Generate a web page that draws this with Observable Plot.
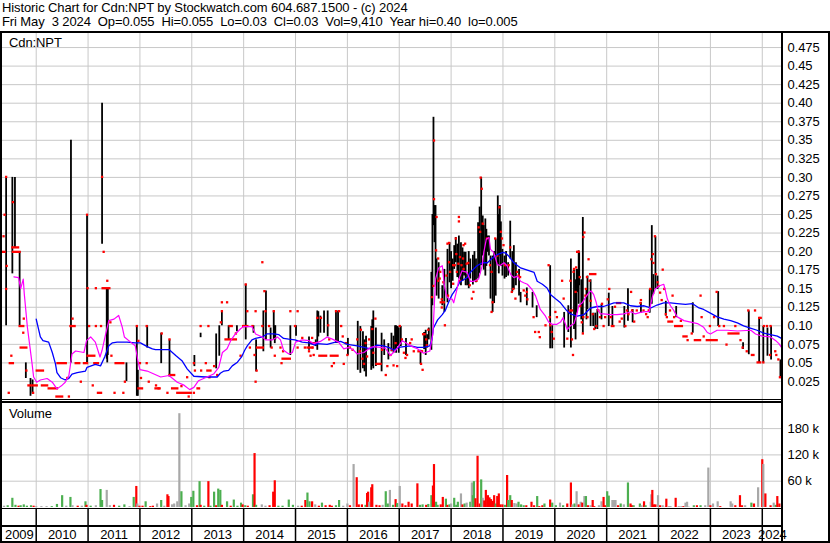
<!DOCTYPE html>
<html>
<head>
<meta charset="utf-8">
<script src="https://cdn.jsdelivr.net/npm/d3@7"></script>
<script src="https://cdn.jsdelivr.net/npm/@observablehq/plot@0.6"></script>
<style>
  html, body { margin: 0; padding: 0; background: #fff; }
  #page { position: relative; width: 830px; height: 543px; background: #fff; overflow: hidden;
          font-family: "Liberation Sans", Arial, sans-serif; color: #000; }
  .abs { position: absolute; }
  .txt { font-size: 13px; letter-spacing: -0.1px; white-space: pre; line-height: 14px; }
  .ln { position: absolute; background: #000; }
</style>
</head>
<body>
<div id="page">
  <div class="abs txt" style="left:2px;top:1px;">Historic Chart for Cdn:NPT by Stockwatch.com 604.687.1500 - (c) 2024
Fri May  3 2024  Op=0.055  Hi=0.055  Lo=0.03  Cl=0.03  Vol=9,410  Year hi=0.40  lo=0.005</div>
  <div id="price" class="abs" style="left:0;top:31px;"></div>
  <div id="volume" class="abs" style="left:0;top:402px;"></div>
  <div id="years" class="abs" style="left:0;top:509px;"></div>
  <div class="abs txt" style="left:9px;top:36px;">Cdn:NPT</div>
  <div class="abs txt" style="left:9px;top:407px;">Volume</div>
  <!-- frame lines -->
  <div class="ln" style="left:0;top:31px;width:830px;height:2px;"></div>
  <div class="ln" style="left:0;top:31px;width:2px;height:512px;"></div>
  <div class="ln" style="left:828px;top:31px;width:2px;height:512px;"></div>
  <div class="ln" style="left:0;top:541px;width:830px;height:2px;"></div>
  <div class="ln" style="left:781px;top:31px;width:2px;height:512px;"></div>
  <div class="ln" style="left:0;top:398.8px;width:782px;height:1.4px;"></div>
  <div class="ln" style="left:0;top:401.2px;width:782px;height:1.4px;"></div>
  <div class="ln" style="left:0;top:507.6px;width:782px;height:1.4px;"></div>
  <div class="ln" style="left:0;top:525.3px;width:782px;height:1.6px;"></div>
</div>
<script>
// ---------- data ----------
const xDomain = [2009.35, 2024.39];           // decimal years shown
const yearStarts = [2010,2011,2012,2013,2014,2015,2016,2017,2018,2019,2020,2021,2022,2023,2024];
const yearLabels = ["2009","2010","2011","2012","2013","2014","2015","2016","2017","2018","2019","2020","2021","2022","2023","2024"];

const priceTicks = [0.025,0.05,0.075,0.10,0.125,0.15,0.175,0.20,0.225,0.25,0.275,0.30,0.325,0.35,0.375,0.40,0.425,0.45,0.475];
const priceTickLabels = ["0.025","0.05","0.075","0.10","0.125","0.15","0.175","0.20","0.225","0.25","0.275","0.30","0.325","0.35","0.375","0.40","0.425","0.45","0.475"];
const volTicks = [60,120,180];                // thousands
const volTickLabels = ["60 k","120 k","180 k"];

// high-low bars: [year, high, low]
const bars = [
[2009.42,0.30,0.10],[2009.54,0.30,0.17],[2009.59,0.30,0.205],[2009.68,0.20,0.10],[2009.80,0.05,0.029],[2009.89,0.029,0.005],[2009.93,0.027,0.008],
[2010.67,0.35,0.05],[2010.98,0.25,0.05],
[2011.27,0.40,0.21],[2011.36,0.15,0.055],[2011.37,0.15,0.05],[2011.38,0.15,0.06],[2011.74,0.05,0.025],[2011.94,0.10,0.005],[2011.96,0.04,0.005],
[2012.14,0.10,0.07],[2012.41,0.09,0.049],[2012.57,0.081,0.031],
[2013.05,0.06,0.045],[2013.17,0.09,0.084],[2013.47,0.089,0.042],[2013.53,0.10,0.059],[2013.58,0.12,0.10],[2013.71,0.10,0.081],[2013.87,0.10,0.092],
[2014.04,0.156,0.081],[2014.19,0.10,0.09],[2014.24,0.081,0.038],[2014.38,0.12,0.065],[2014.43,0.147,0.081],[2014.52,0.097,0.07],[2014.58,0.12,0.081],[2014.60,0.10,0.076],[2014.61,0.10,0.081],[2014.90,0.10,0.06],
[2015.01,0.10,0.086],[2015.26,0.085,0.067],[2015.39,0.081,0.072],[2015.42,0.12,0.067],[2015.44,0.119,0.085],[2015.48,0.113,0.09],[2015.55,0.12,0.09],[2015.62,0.12,0.085],[2015.78,0.12,0.076],[2015.82,0.12,0.076],
[2016.01,0.083,0.06],[2016.20,0.106,0.04],[2016.25,0.099,0.036],[2016.30,0.092,0.042],[2016.33,0.081,0.038],[2016.36,0.086,0.031],[2016.46,0.099,0.04],[2016.48,0.108,0.045],[2016.50,0.12,0.042],[2016.55,0.097,0.045],[2016.66,0.09,0.038],[2016.71,0.081,0.06],[2016.79,0.076,0.054],[2016.85,0.09,0.065],[2016.89,0.086,0.063],[2016.92,0.10,0.067],[2016.94,0.10,0.063],[2016.97,0.099,0.072],[2016.99,0.097,0.063],
[2017.03,0.099,0.072],[2017.13,0.083,0.06],[2017.41,0.067,0.048],[2017.48,0.091,0.068],[2017.51,0.094,0.06],[2017.54,0.088,0.07],[2017.57,0.097,0.081],[2017.62,0.172,0.067],[2017.64,0.25,0.127],[2017.66,0.381,0.235],[2017.68,0.262,0.212],[2017.70,0.262,0.154],[2017.72,0.19,0.14],[2017.76,0.185,0.136],[2017.83,0.154,0.127],[2017.87,0.176,0.118],[2017.93,0.203,0.131],[2017.97,0.212,0.158],
[2018.00,0.20,0.15],[2018.03,0.19,0.16],[2018.06,0.208,0.176],[2018.09,0.219,0.185],[2018.12,0.21,0.165],[2018.15,0.221,0.163],[2018.19,0.212,0.154],[2018.22,0.205,0.16],[2018.25,0.199,0.167],[2018.28,0.199,0.154],[2018.31,0.169,0.154],[2018.34,0.20,0.15],[2018.37,0.19,0.163],[2018.42,0.195,0.155],[2018.45,0.20,0.16],[2018.48,0.19,0.158],[2018.52,0.239,0.163],[2018.55,0.26,0.17],[2018.58,0.30,0.181],[2018.61,0.248,0.194],[2018.63,0.235,0.175],[2018.66,0.244,0.167],[2018.68,0.23,0.18],[2018.70,0.221,0.199],[2018.73,0.221,0.194],[2018.76,0.194,0.136],[2018.80,0.194,0.118],[2018.83,0.20,0.13],[2018.86,0.217,0.14],[2018.90,0.275,0.181],[2018.92,0.25,0.17],[2018.94,0.262,0.194],[2018.96,0.24,0.18],[2018.99,0.203,0.167],
[2019.03,0.194,0.163],[2019.06,0.20,0.165],[2019.10,0.185,0.167],[2019.14,0.241,0.19],[2019.18,0.20,0.145],[2019.21,0.208,0.149],[2019.25,0.185,0.154],[2019.31,0.176,0.14],[2019.34,0.145,0.131],[2019.46,0.151,0.127],[2019.57,0.145,0.124],[2019.65,0.127,0.111],[2019.91,0.181,0.069],[2019.95,0.10,0.069],
[2020.18,0.118,0.07],[2020.26,0.127,0.091],[2020.31,0.19,0.07],[2020.37,0.176,0.095],[2020.40,0.162,0.081],[2020.42,0.176,0.117],[2020.44,0.176,0.145],[2020.46,0.201,0.129],[2020.47,0.199,0.154],[2020.51,0.162,0.108],[2020.54,0.246,0.09],[2020.61,0.149,0.108],[2020.63,0.167,0.122],[2020.69,0.162,0.099],[2020.74,0.117,0.099],[2020.78,0.117,0.095],[2020.82,0.122,0.095],[2020.90,0.129,0.108],
[2021.04,0.144,0.099],[2021.11,0.126,0.099],[2021.34,0.126,0.097],[2021.41,0.15,0.106],[2021.50,0.122,0.104],[2021.66,0.131,0.117],[2021.83,0.149,0.117],[2021.87,0.235,0.129],[2021.90,0.169,0.142],[2021.94,0.22,0.149],[2021.98,0.167,0.149],
[2022.14,0.133,0.113],[2022.34,0.126,0.111],[2022.66,0.131,0.09],
[2023.15,0.146,0.099],[2023.63,0.077,0.068],[2023.74,0.12,0.061],[2023.94,0.111,0.05],
[2024.02,0.099,0.05],[2024.10,0.097,0.059],[2024.17,0.099,0.054],[2024.35,0.054,0.03]
];

// closes: [year, close] or [year, close, lastYearOfRun] when the price held
const closes = [
[2009.43,0.30],[2009.56,0.266],[2009.40,0.249],[2009.38,0.22],[2009.35,0.199,2009.40],[2009.55,0.205,2009.66],[2009.56,0.199,2009.69],[2009.44,0.18],[2009.43,0.149],[2009.69,0.099,2009.76],[2009.76,0.09],[2009.77,0.109],[2009.71,0.07,2009.82],[2009.53,0.059],[2009.50,0.049,2009.56],[2009.82,0.039],[2009.86,0.019,2010.02],[2009.48,0.009],[2009.95,0.009],
[2010.02,0.039,2010.14],[2010.12,0.019,2010.22],[2010.25,0.015,2010.41],[2010.40,0.004,2010.51],[2010.42,0.049,2010.58],[2010.61,0.029],[2010.64,0.004],[2010.67,0.099,2010.75],[2010.71,0.109],[2010.77,0.049,2010.84],[2010.87,0.024],[2010.93,0.049,2010.99],[2010.99,0.249],
[2011.00,0.15],[2011.00,0.059,2011.13],[2011.03,0.099],[2011.16,0.099],[2011.16,0.15],[2011.26,0.099],[2011.29,0.15,2011.42],[2011.38,0.16],[2011.31,0.199],[2011.28,0.30],[2011.20,0.009,2011.26],[2011.10,0.019],[2011.13,0.049,2011.20],[2011.46,0.059],[2011.44,0.104],[2011.54,0.049,2011.69],[2011.52,0.009],[2011.72,0.024],[2011.69,0.009],[2011.95,0.099],[2011.98,0.079],
[2012.01,0.049],[2012.03,0.029],[2011.98,0.015,2012.05],[2012.14,0.049],[2012.14,0.099],[2012.18,0.024],[2012.32,0.019],[2012.37,0.015],[2012.31,0.015,2012.39],[2012.54,0.009],[2012.63,0.015,2012.73],[2012.73,0.009,2012.99],[2012.95,0.004],[2012.58,0.033,2012.67],[2012.81,0.018],[2012.92,0.03],[2012.43,0.089],[2012.58,0.081],
[2013.05,0.009],[2013.05,0.049],[2013.07,0.039],[2013.12,0.015,2013.15],[2013.19,0.039],[2013.18,0.099],[2013.33,0.099],[2013.28,0.049],[2013.31,0.039,2013.37],[2013.44,0.045],[2013.50,0.033],[2013.35,0.03],[2013.59,0.131],[2013.69,0.131],[2013.57,0.104],[2013.59,0.119],[2013.74,0.099,2013.78],[2013.66,0.081,2013.86],[2013.86,0.089],[2013.95,0.059],
[2014.05,0.155],[2014.08,0.119],[2014.00,0.099,2014.08],[2014.18,0.099],[2014.24,0.119],[2014.26,0.039],[2014.24,0.024],[2014.41,0.146],[2014.37,0.099],[2014.27,0.07,2014.38],[2014.13,0.07],[2014.22,0.06],[2014.37,0.185],[2014.43,0.119],[2014.50,0.099],[2014.55,0.07],[2014.59,0.119],[2014.61,0.059],[2014.72,0.07],[2014.77,0.065],[2014.76,0.055,2014.90],[2014.74,0.049],[2014.91,0.119],
[2015.05,0.119],[2015.00,0.099],[2015.05,0.07],[2015.14,0.083],[2015.19,0.07],[2015.24,0.07,2015.33],[2015.27,0.065],[2015.30,0.059],[2015.33,0.083],[2015.31,0.076,2015.38],[2015.34,0.07],[2015.36,0.06],[2015.43,0.11],[2015.47,0.059,2015.60],[2015.50,0.11],[2015.64,0.10],[2015.66,0.081],[2015.69,0.059,2015.82],[2015.71,0.045],[2015.75,0.049],[2015.79,0.119],[2015.85,0.119],[2015.89,0.099],[2015.92,0.085],[2015.94,0.048],[2015.98,0.076],
[2016.01,0.06],[2016.06,0.07],[2016.11,0.067],[2016.20,0.081],[2016.25,0.065],[2016.27,0.094],[2016.30,0.055],[2016.33,0.048],[2016.36,0.076],[2016.39,0.058],[2016.43,0.081],[2016.49,0.095],[2016.51,0.063],[2016.55,0.109],[2016.57,0.048,2016.65],[2016.68,0.067],[2016.75,0.033],[2016.78,0.045],[2016.84,0.06],[2016.87,0.067],[2016.90,0.046],[2016.94,0.076],[2016.97,0.045],
[2017.02,0.099],[2017.06,0.081],[2017.10,0.063],[2017.13,0.056],[2017.16,0.06],[2017.22,0.076],[2017.25,0.081],[2017.29,0.065],[2017.38,0.065,2017.45],[2017.43,0.048],[2017.46,0.04],[2017.53,0.081],[2017.57,0.094],[2017.47,0.088,2017.50],[2017.54,0.073],[2017.64,0.138],[2017.67,0.153],[2017.68,0.349],[2017.68,0.27],[2017.73,0.246],[2017.72,0.201],[2017.76,0.19],[2017.76,0.16],[2017.79,0.163],[2017.80,0.172],[2017.81,0.131,2017.87],[2017.83,0.124],[2017.83,0.135],[2017.86,0.158],[2017.89,0.10],[2017.92,0.167],[2017.94,0.21],[2017.95,0.14],[2017.97,0.211],[2017.97,0.185],[2017.99,0.172],
[2018.05,0.156],[2018.05,0.181],[2018.08,0.181],[2018.10,0.217],[2018.11,0.196],[2018.12,0.172],[2018.15,0.183],[2018.16,0.246],[2018.16,0.24],[2018.18,0.192],[2018.18,0.16],[2018.21,0.181],[2018.24,0.19],[2018.25,0.208],[2018.25,0.176],[2018.28,0.21],[2018.31,0.183],[2018.34,0.184],[2018.37,0.154],[2018.41,0.136],[2018.44,0.145],[2018.50,0.16],[2018.54,0.232],[2018.57,0.226],[2018.58,0.299],[2018.60,0.284],[2018.62,0.237],[2018.70,0.217],[2018.76,0.181],[2018.79,0.172],[2018.81,0.131],[2018.79,0.118],[2018.86,0.217],[2018.90,0.194],[2018.94,0.259],[2018.97,0.226],[2018.99,0.217],
[2019.02,0.208],[2019.05,0.181],[2019.12,0.181],[2019.15,0.205],[2019.18,0.145],[2019.21,0.149],[2019.25,0.136],[2019.28,0.172],[2019.31,0.167],[2019.34,0.165],[2019.41,0.147],[2019.44,0.14],[2019.47,0.145],[2019.48,0.135],[2019.60,0.111],[2019.63,0.091],[2019.70,0.091],[2019.72,0.084],[2019.83,0.10],[2019.89,0.181],[2019.91,0.111],[2019.92,0.10],[2019.95,0.091],[2019.99,0.082],
[2020.02,0.118],[2020.05,0.111],[2020.15,0.16],[2020.18,0.136],[2020.25,0.082],[2020.28,0.118],[2020.31,0.16],[2020.31,0.12,2020.34],[2020.34,0.081],[2020.36,0.06],[2020.37,0.172],[2020.38,0.176],[2020.41,0.145],[2020.42,0.178],[2020.44,0.199],[2020.47,0.199],[2020.49,0.165],[2020.50,0.126],[2020.53,0.104],[2020.55,0.089],[2020.56,0.111],[2020.56,0.219],[2020.58,0.225],[2020.60,0.14],[2020.61,0.149],[2020.63,0.165],[2020.64,0.111],[2020.66,0.189],[2020.68,0.16],[2020.69,0.169,2020.79],[2020.70,0.133],[2020.74,0.115],[2020.77,0.095],[2020.81,0.099],[2020.85,0.12],[2020.88,0.111],[2020.92,0.129],[2020.95,0.099],[2020.98,0.111],
[2021.03,0.135],[2021.06,0.149],[2021.09,0.111],[2021.11,0.099,2021.14],[2021.17,0.125],[2021.21,0.13,2021.27],[2021.26,0.105],[2021.30,0.109],[2021.37,0.099],[2021.40,0.12],[2021.43,0.115],[2021.48,0.145],[2021.50,0.12],[2021.54,0.105],[2021.59,0.12],[2021.66,0.13],[2021.67,0.134],[2021.72,0.12],[2021.77,0.115],[2021.80,0.111],[2021.82,0.12],[2021.85,0.149],[2021.87,0.189],[2021.90,0.196],[2021.91,0.184],[2021.94,0.22],[2021.96,0.169],[2021.99,0.158],
[2022.01,0.153],[2022.04,0.144],[2022.07,0.134],[2022.09,0.175],[2022.12,0.149],[2022.15,0.115],[2022.17,0.111],[2022.20,0.105,2022.27],[2022.23,0.12],[2022.28,0.14],[2022.31,0.111],[2022.33,0.099,2022.46],[2022.44,0.106],[2022.49,0.085,2022.55],[2022.57,0.08],[2022.65,0.089],[2022.71,0.08,2022.81],[2022.82,0.14],[2022.88,0.085],[2022.84,0.111],[2022.94,0.08,2023.13],
[2023.00,0.099],[2023.08,0.111],[2023.13,0.145],[2023.18,0.099],[2023.27,0.099],[2023.32,0.074],[2023.36,0.089,2023.55],[2023.49,0.099],[2023.59,0.08],[2023.63,0.07],[2023.71,0.065],[2023.74,0.12],[2023.87,0.12],[2023.81,0.06,2023.84],[2023.92,0.05,2023.97],[2023.95,0.11],[2023.98,0.11],
[2024.03,0.05],[2024.04,0.099],[2024.10,0.099],[2024.16,0.06],[2024.17,0.099],[2024.26,0.065],[2024.28,0.06],[2024.32,0.054],[2024.35,0.03]
];

// short moving average (magenta): [year, value]
const maShort = [
[2009.57,0.166],[2009.66,0.165],[2009.70,0.150],[2009.75,0.163],[2009.77,0.143],[2009.83,0.098],[2009.88,0.071],[2009.92,0.049],[2009.95,0.031],[2010.01,0.024],[2010.08,0.027],[2010.21,0.029],[2010.31,0.024],[2010.40,0.015],[2010.50,0.020],[2010.56,0.024],[2010.63,0.033],[2010.69,0.062],[2010.76,0.066],[2010.92,0.064],[2010.97,0.080],[2011.05,0.085],[2011.14,0.078],[2011.23,0.058],[2011.27,0.067],[2011.34,0.089],[2011.40,0.107],[2011.50,0.109],[2011.59,0.114],[2011.66,0.098],[2011.70,0.085],[2011.82,0.078],[2011.91,0.073],[2011.96,0.053],[2012.00,0.041],[2012.14,0.039],[2012.27,0.035],[2012.40,0.031],[2012.56,0.033],[2012.72,0.024],[2012.85,0.020],[2012.96,0.014],[2013.04,0.017],[2013.13,0.026],[2013.26,0.030],[2013.42,0.035],[2013.52,0.044],[2013.59,0.064],[2013.68,0.069],[2013.75,0.080],[2013.84,0.089],[2013.94,0.096],[2014.00,0.099],[2014.16,0.099],[2014.23,0.089],[2014.36,0.085],[2014.42,0.081],[2014.55,0.081],[2014.65,0.085],[2014.71,0.081],[2014.77,0.067],[2014.87,0.062],[2014.94,0.064],[2015.00,0.078],[2015.13,0.081],[2015.26,0.080],[2015.35,0.076],[2015.48,0.079],[2015.61,0.085],[2015.71,0.082],[2015.83,0.078],[2015.93,0.069],[2016.03,0.071],[2016.12,0.067],[2016.19,0.062],[2016.32,0.064],[2016.45,0.071],[2016.51,0.072],[2016.64,0.071],[2016.73,0.070],[2016.83,0.060],[2016.93,0.067],[2017.06,0.080],[2017.15,0.076],[2017.25,0.072],[2017.35,0.069],[2017.47,0.063],[2017.59,0.066],[2017.65,0.090],[2017.70,0.163],[2017.76,0.178],[2017.83,0.181],[2017.87,0.154],[2017.91,0.140],[2017.96,0.136],[2018.02,0.136],[2018.05,0.131],[2018.12,0.151],[2018.15,0.163],[2018.21,0.174],[2018.31,0.172],[2018.37,0.160],[2018.44,0.160],[2018.53,0.163],[2018.60,0.181],[2018.63,0.199],[2018.68,0.217],[2018.73,0.219],[2018.76,0.203],[2018.82,0.199],[2018.89,0.183],[2018.94,0.181],[2019.02,0.185],[2019.08,0.181],[2019.15,0.169],[2019.21,0.165],[2019.28,0.167],[2019.34,0.160],[2019.40,0.158],[2019.47,0.156],[2019.56,0.149],[2019.63,0.140],[2019.72,0.122],[2019.82,0.113],[2019.88,0.105],[2019.95,0.102],[2020.04,0.102],[2020.11,0.105],[2020.16,0.111],[2020.24,0.095],[2020.30,0.100],[2020.37,0.103],[2020.42,0.114],[2020.46,0.127],[2020.53,0.131],[2020.59,0.138],[2020.66,0.145],[2020.70,0.147],[2020.75,0.142],[2020.80,0.131],[2020.83,0.122],[2020.88,0.116],[2020.94,0.116],[2021.07,0.115],[2021.20,0.115],[2021.33,0.116],[2021.47,0.119],[2021.55,0.116],[2021.65,0.118],[2021.75,0.119],[2021.82,0.119],[2021.88,0.139],[2021.94,0.150],[2022.02,0.154],[2022.10,0.156],[2022.13,0.148],[2022.17,0.136],[2022.23,0.127],[2022.29,0.121],[2022.36,0.112],[2022.49,0.107],[2022.62,0.105],[2022.75,0.103],[2022.87,0.098],[2022.94,0.091],[2023.00,0.089],[2023.13,0.094],[2023.33,0.094],[2023.52,0.093],[2023.78,0.094],[2023.87,0.089],[2024.00,0.086],[2024.16,0.085],[2024.26,0.080],[2024.32,0.076],[2024.37,0.071]
];

// long moving average (blue): [year, value]
const maLong = [
[2010.00,0.109],[2010.08,0.085],[2010.13,0.080],[2010.24,0.078],[2010.31,0.064],[2010.37,0.049],[2010.40,0.037],[2010.47,0.030],[2010.56,0.027],[2010.63,0.029],[2010.69,0.035],[2010.79,0.037],[2010.95,0.039],[2010.98,0.044],[2011.14,0.048],[2011.24,0.046],[2011.32,0.058],[2011.40,0.073],[2011.47,0.077],[2011.56,0.078],[2011.75,0.078],[2011.91,0.077],[2012.01,0.077],[2012.14,0.072],[2012.24,0.069],[2012.30,0.068],[2012.56,0.068],[2012.69,0.060],[2012.81,0.053],[2012.91,0.042],[2013.04,0.032],[2013.26,0.031],[2013.49,0.031],[2013.55,0.036],[2013.62,0.039],[2013.71,0.040],[2013.78,0.046],[2013.88,0.051],[2013.96,0.058],[2014.02,0.067],[2014.07,0.073],[2014.16,0.081],[2014.23,0.083],[2014.36,0.085],[2014.45,0.089],[2014.58,0.089],[2014.68,0.088],[2014.77,0.083],[2014.87,0.082],[2014.99,0.081],[2015.13,0.078],[2015.26,0.077],[2015.37,0.074],[2015.42,0.076],[2015.61,0.075],[2015.77,0.078],[2015.87,0.079],[2016.00,0.075],[2016.19,0.073],[2016.32,0.071],[2016.45,0.069],[2016.57,0.074],[2016.70,0.073],[2016.83,0.070],[2016.89,0.067],[2016.99,0.071],[2017.09,0.072],[2017.22,0.073],[2017.35,0.071],[2017.47,0.071],[2017.59,0.073],[2017.63,0.081],[2017.66,0.097],[2017.74,0.108],[2017.83,0.115],[2017.89,0.121],[2017.96,0.133],[2018.02,0.142],[2018.10,0.150],[2018.17,0.159],[2018.24,0.162],[2018.31,0.165],[2018.37,0.172],[2018.50,0.181],[2018.60,0.185],[2018.70,0.185],[2018.79,0.191],[2018.89,0.196],[2019.00,0.199],[2019.05,0.198],[2019.11,0.194],[2019.21,0.185],[2019.34,0.178],[2019.47,0.175],[2019.60,0.172],[2019.66,0.160],[2019.76,0.156],[2019.85,0.151],[2019.92,0.142],[2020.02,0.136],[2020.11,0.131],[2020.21,0.122],[2020.30,0.116],[2020.43,0.113],[2020.56,0.115],[2020.69,0.124],[2020.82,0.126],[2020.94,0.126],[2021.14,0.131],[2021.33,0.131],[2021.46,0.127],[2021.59,0.126],[2021.72,0.127],[2021.85,0.124],[2021.97,0.128],[2022.10,0.131],[2022.23,0.131],[2022.36,0.130],[2022.52,0.129],[2022.65,0.130],[2022.78,0.124],[2022.87,0.122],[2023.00,0.117],[2023.13,0.112],[2023.26,0.109],[2023.39,0.107],[2023.52,0.104],[2023.64,0.100],[2023.77,0.097],[2023.90,0.094],[2024.03,0.090],[2024.16,0.088],[2024.29,0.086],[2024.37,0.083]
];

// volume in thousands: [year, volume, u=up / d=down / s=unchanged]
const volume = [
[2009.38,3,"s"],[2009.45,4,"u"],[2009.54,21,"u"],[2009.60,5,"u"],[2009.66,3,"d"],[2009.70,4,"u"],[2009.76,6,"u"],[2009.82,3,"u"],[2009.90,4,"u"],[2009.95,3,"d"],[2010.00,2,"s"],[2010.10,2,"s"],[2010.20,2,"s"],[2010.30,2,"u"],[2010.40,7,"u"],[2010.50,27,"u"],[2010.58,3,"s"],[2010.66,23,"u"],[2010.70,4,"s"],[2010.80,3,"d"],[2010.88,3,"s"],[2010.95,13,"u"],[2010.97,5,"d"],
[2011.05,3,"u"],[2011.15,4,"s"],[2011.24,41,"u"],[2011.27,16,"u"],[2011.36,39,"s"],[2011.42,4,"s"],[2011.50,5,"d"],[2011.60,3,"u"],[2011.70,6,"u"],[2011.80,2,"s"],[2011.88,23,"u"],[2011.93,48,"d"],[2011.95,8,"s"],[2011.99,3,"d"],
[2012.05,3,"d"],[2012.11,13,"u"],[2012.20,2,"d"],[2012.25,3,"d"],[2012.33,8,"s"],[2012.41,16,"u"],[2012.47,3,"s"],[2012.53,29,"d"],[2012.55,25,"d"],[2012.62,6,"s"],[2012.66,8,"s"],[2012.72,13,"s"],[2012.76,214,"s"],[2012.80,36,"u"],[2012.88,4,"s"],[2012.95,8,"s"],[2012.99,23,"u"],
[2013.03,37,"u"],[2013.10,4,"d"],[2013.15,59,"u"],[2013.17,5,"d"],[2013.24,3,"u"],[2013.32,59,"d"],[2013.36,3,"u"],[2013.43,35,"u"],[2013.47,4,"d"],[2013.51,42,"u"],[2013.55,39,"u"],[2013.58,5,"d"],[2013.68,13,"u"],[2013.75,3,"d"],[2013.81,17,"u"],[2013.88,3,"u"],[2013.95,10,"u"],[2013.98,6,"d"],
[2014.03,4,"u"],[2014.08,3,"d"],[2014.18,29,"u"],[2014.21,123,"d"],[2014.24,5,"u"],[2014.35,6,"s"],[2014.42,3,"s"],[2014.50,4,"d"],[2014.57,35,"d"],[2014.60,61,"d"],[2014.67,3,"u"],[2014.75,3,"u"],[2014.87,17,"u"],[2014.95,5,"u"],
[2015.05,3,"s"],[2015.12,3,"d"],[2015.19,16,"d"],[2015.23,33,"u"],[2015.27,13,"u"],[2015.32,13,"d"],[2015.38,6,"s"],[2015.45,3,"d"],[2015.51,10,"u"],[2015.58,4,"d"],[2015.66,5,"d"],[2015.70,3,"d"],[2015.78,4,"u"],[2015.84,16,"u"],[2015.92,3,"s"],
[2016.00,8,"s"],[2016.05,4,"d"],[2016.12,98,"s"],[2016.18,68,"d"],[2016.22,6,"d"],[2016.28,6,"d"],[2016.35,5,"u"],[2016.38,32,"d"],[2016.40,35,"d"],[2016.42,12,"s"],[2016.46,45,"d"],[2016.48,52,"d"],[2016.56,5,"d"],[2016.62,4,"d"],[2016.68,5,"s"],[2016.74,36,"u"],[2016.78,8,"u"],[2016.82,39,"s"],[2016.88,5,"u"],[2016.93,18,"d"],[2016.96,9,"u"],
[2017.01,48,"s"],[2017.06,8,"d"],[2017.12,4,"d"],[2017.18,12,"d"],[2017.24,8,"d"],[2017.35,54,"d"],[2017.40,5,"u"],[2017.45,6,"u"],[2017.52,5,"d"],[2017.56,7,"u"],[2017.62,27,"u"],[2017.65,49,"d"],[2017.67,98,"d"],[2017.71,12,"u"],[2017.74,5,"u"],[2017.80,6,"d"],[2017.84,23,"d"],[2017.90,19,"u"],[2017.93,5,"d"],[2017.97,6,"u"],
[2018.00,8,"s"],[2018.06,21,"u"],[2018.10,5,"u"],[2018.13,12,"u"],[2018.19,31,"s"],[2018.22,6,"d"],[2018.26,8,"u"],[2018.30,10,"s"],[2018.37,12,"u"],[2018.40,56,"s"],[2018.42,27,"u"],[2018.44,59,"u"],[2018.47,20,"d"],[2018.51,117,"d"],[2018.55,8,"d"],[2018.58,63,"u"],[2018.61,21,"s"],[2018.64,15,"d"],[2018.67,39,"d"],[2018.71,27,"d"],[2018.74,22,"d"],[2018.77,18,"d"],[2018.80,14,"d"],[2018.83,27,"d"],[2018.86,8,"u"],[2018.89,25,"d"],[2018.92,31,"d"],[2018.95,6,"d"],[2018.99,6,"d"],
[2019.04,5,"u"],[2019.08,73,"d"],[2019.10,16,"u"],[2019.14,27,"u"],[2019.17,16,"d"],[2019.22,9,"s"],[2019.26,8,"s"],[2019.30,12,"u"],[2019.35,6,"u"],[2019.40,4,"u"],[2019.45,4,"d"],[2019.55,12,"d"],[2019.60,4,"d"],[2019.66,25,"u"],[2019.70,2,"d"],[2019.76,4,"d"],[2019.80,8,"u"],[2019.91,17,"d"],[2019.95,10,"u"],
[2020.02,4,"u"],[2020.10,10,"s"],[2020.16,4,"u"],[2020.24,8,"d"],[2020.31,56,"d"],[2020.34,6,"s"],[2020.38,8,"u"],[2020.42,36,"s"],[2020.46,6,"d"],[2020.50,12,"s"],[2020.53,10,"d"],[2020.57,25,"s"],[2020.60,25,"u"],[2020.64,4,"d"],[2020.69,4,"s"],[2020.73,16,"d"],[2020.76,2,"d"],[2020.85,4,"s"],[2020.90,13,"s"],[2020.94,23,"d"],[2020.97,4,"d"],
[2021.01,36,"u"],[2021.04,26,"u"],[2021.11,16,"s"],[2021.14,16,"s"],[2021.17,16,"s"],[2021.22,4,"d"],[2021.27,8,"u"],[2021.33,6,"s"],[2021.41,56,"u"],[2021.46,8,"d"],[2021.49,4,"d"],[2021.52,4,"u"],[2021.64,8,"u"],[2021.67,4,"s"],[2021.72,13,"d"],[2021.75,4,"u"],[2021.85,12,"s"],[2021.86,29,"s"],[2021.88,39,"d"],[2021.91,6,"d"],[2021.94,6,"d"],[2021.99,27,"s"],
[2022.03,4,"d"],[2022.08,4,"s"],[2022.14,2,"s"],[2022.15,19,"d"],[2022.20,2,"s"],[2022.23,2,"s"],[2022.33,21,"d"],[2022.39,2,"s"],[2022.44,2,"s"],[2022.48,2,"d"],[2022.52,10,"s"],[2022.55,12,"s"],[2022.58,1,"s"],[2022.68,4,"u"],[2022.74,4,"d"],[2022.81,4,"u"],[2022.90,4,"s"],[2022.96,90,"s"],[2023.00,4,"d"],[2023.05,8,"s"],
[2023.14,13,"s"],[2023.19,2,"d"],[2023.39,13,"s"],[2023.42,8,"s"],[2023.48,4,"d"],[2023.57,27,"d"],[2023.61,4,"d"],[2023.67,4,"s"],[2023.79,10,"u"],[2023.84,8,"d"],[2023.92,45,"s"],[2024.00,109,"d"],[2024.02,98,"s"],[2024.06,31,"d"],[2024.16,4,"d"],[2024.22,10,"s"],[2024.26,5,"u"],[2024.29,25,"d"],[2024.33,8,"d"]
];

// ---------- drawing ----------
const W = 830;
const xOpts = {type: "linear", domain: xDomain, range: [2, 782], axis: null};
const gridColor = "#c8c8c8";
const baseStyle = {background: "transparent", overflow: "visible", fontFamily: "'Liberation Sans', Arial, sans-serif", fontSize: "13px", color: "#000", letterSpacing: "-0.1px"};
const priceLabel = new Map(priceTicks.map((t, i) => [t, priceTickLabels[i]]));
const volLabel = new Map(volTicks.map((t, i) => [t, volTickLabels[i]]));

const price = Plot.plot({
  width: W, height: 370,
  marginLeft: 2, marginRight: 48, marginTop: 0, marginBottom: 0,
  x: xOpts,
  y: {type: "linear", domain: [0, 0.5], range: [368.5, -2.5], axis: null},
  style: baseStyle,
  marks: [
    Plot.ruleY(priceTicks, {stroke: gridColor, strokeWidth: 1}),
    Plot.ruleX(yearStarts, {stroke: gridColor, strokeWidth: 1}),
    Plot.ruleX(bars, {x: d => d[0], y1: d => d[2], y2: d => d[1], stroke: "#000", strokeWidth: 1.8, clip: true}),
    Plot.rect(closes, {x1: d => d[0], x2: d => d[2] ?? d[0], y1: d => d[1], y2: d => d[1], fill: "#ff0000", inset: -1.15, clip: true}),
    Plot.line(maLong, {x: d => d[0], y: d => d[1], stroke: "#0000ff", strokeWidth: 1.3, clip: true}),
    Plot.line(maShort, {x: d => d[0], y: d => d[1], stroke: "#ff00ff", strokeWidth: 1.2, clip: true}),
    Plot.axisY(priceTicks, {anchor: "right", tickSize: 0, tickPadding: 5, label: null, tickFormat: d => priceLabel.get(d), fill: "#000"})
  ]
});
document.getElementById("price").appendChild(price);

const vol = Plot.plot({
  width: W, height: 106,
  marginLeft: 2, marginRight: 48, marginTop: 0, marginBottom: 0,
  x: xOpts,
  y: {type: "linear", domain: [0, 240], range: [105, -0.2], axis: null},
  color: {type: "ordinal", domain: ["u", "d", "s"], range: ["#4caf50", "#ff0000", "#a8a8a8"]},
  style: baseStyle,
  marks: [
    Plot.ruleY(volTicks, {stroke: gridColor, strokeWidth: 1}),
    Plot.ruleX(yearStarts, {stroke: gridColor, strokeWidth: 1}),
    Plot.ruleX(volume, {x: d => d[0], y1: 0, y2: d => d[1], stroke: d => d[2], strokeWidth: 2.2, clip: true}),
    Plot.axisY(volTicks, {anchor: "right", tickSize: 0, tickPadding: 5, label: null, tickFormat: d => volLabel.get(d), fill: "#000"})
  ]
});
document.getElementById("volume").appendChild(vol);

const yearMids = yearLabels.map(s => {
  const y = +s;
  const lo = Math.max(y, xDomain[0]), hi = Math.min(y + 1, xDomain[1]);
  return (lo + hi) / 2;
});
const years = Plot.plot({
  width: W, height: 34,
  marginLeft: 2, marginRight: 48, marginTop: 0, marginBottom: 17,
  x: xOpts,
  style: baseStyle,
  marks: [
    Plot.ruleX(yearStarts, {stroke: "#000", strokeWidth: 1.5, insetBottom: -15}),
    Plot.axisX(yearMids, {anchor: "bottom", tickSize: 0, tickPadding: 3.3, label: null,
      tickFormat: d => yearLabels[yearMids.indexOf(d)], fill: "#000"})
  ]
});
document.getElementById("years").appendChild(years);
</script>
</body>
</html>
